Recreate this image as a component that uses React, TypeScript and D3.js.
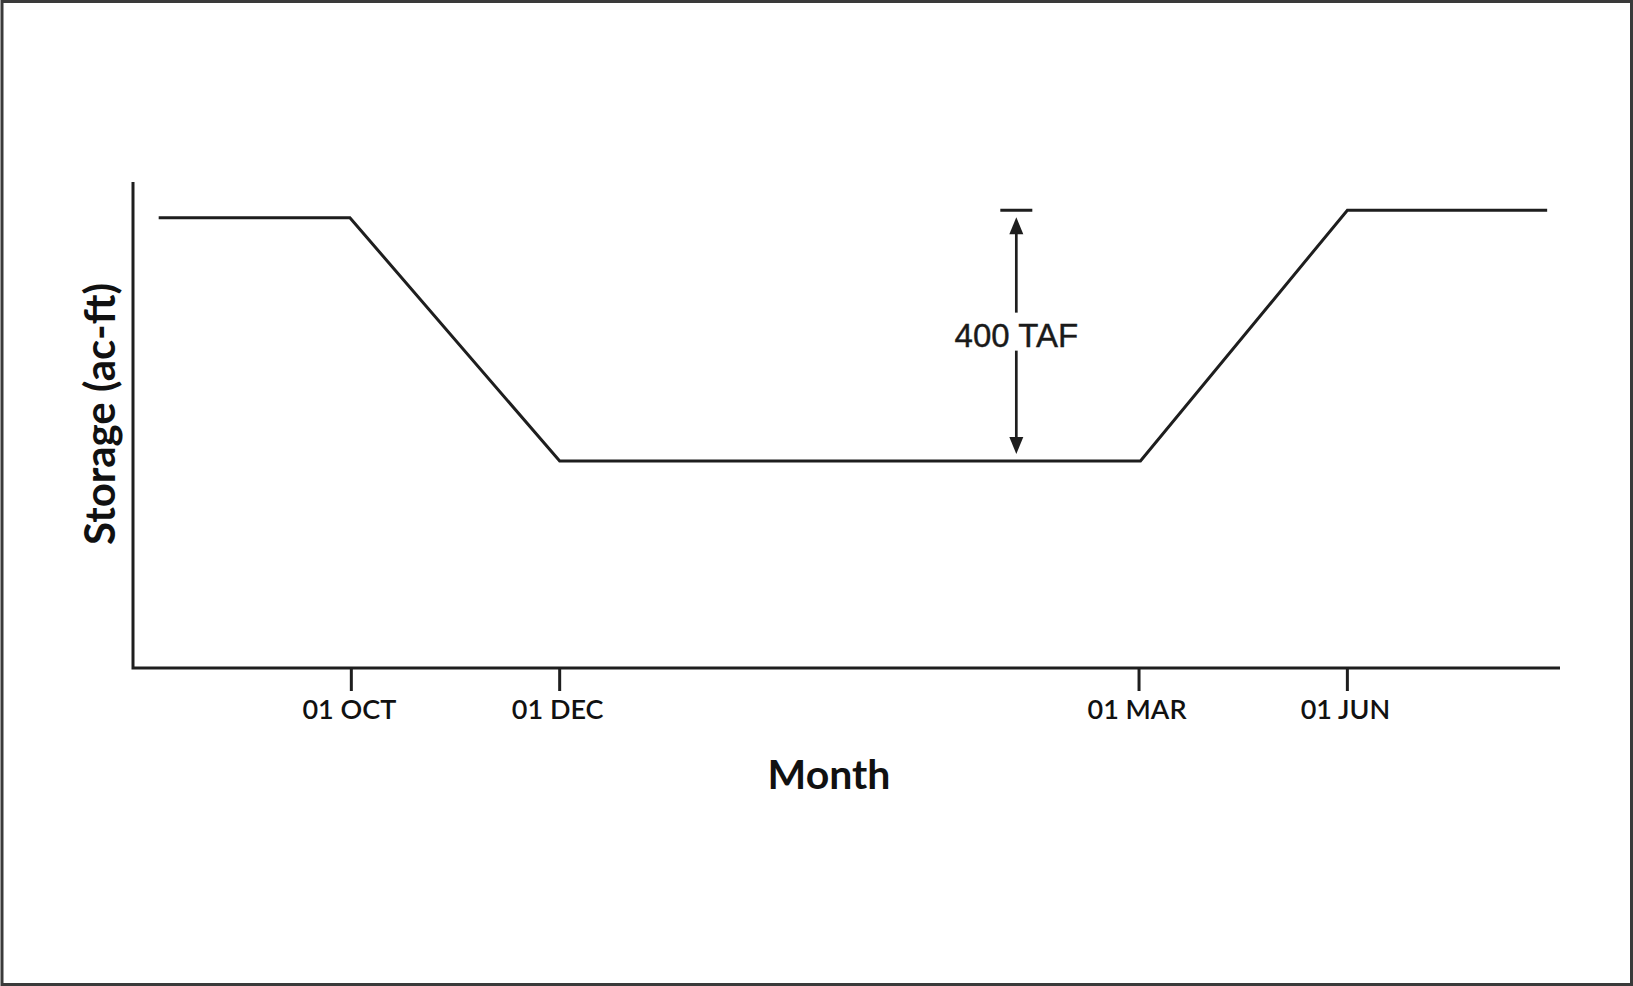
import React from "react";
import * as d3 from "d3";

// schematic x positions (arbitrary units 0..100) and storage (TAF)
const tickLabels = ["01 OCT", "01 DEC", "01 MAR", "01 JUN"];
const tickPositions = [15.3, 29.9, 70.5, 85.1];
const seriesX = [1.8, 15.2, 29.9, 70.6, 85.1, 99.1];
const seriesStorage = [718, 718, 330, 330, 730, 730];
const annotationX = 61.9;
const annotationLow = 330;
const annotationHigh = 730;
const annotationLabel = "400 TAF";
const xTitle = "Month";
const yTitle = "Storage (ac-ft)";

const W = 1633;
const H = 986;

export default function App() {
  const x = d3.scaleLinear().domain([0, 100]).range([133, 1560]);
  const y = d3.scaleLinear().domain([0, 775]).range([668, 182]);
  const pts: [number, number][] = seriesX.map((v, i) => [v, seriesStorage[i]]);
  const line = d3
    .line<[number, number]>()
    .x((d) => x(d[0]))
    .y((d) => y(d[1]));

  const ax = x(annotationX);
  const yTop = y(annotationHigh);
  const yBot = y(annotationLow);
  const tipInset = 7;
  const headH = 17;
  const headW = 7;
  const textY = (yTop + yBot) / 2;
  const stroke = "#1e1e1e";

  return (
    <svg
      width={W}
      height={H}
      style={{ position: "absolute", left: 0, top: 0, background: "#fff" }}
    >
      <rect x={0} y={0} width={W} height={H} fill="#fff" />
      <rect
        x={2}
        y={1.5}
        width={W - 3.5}
        height={H - 3}
        fill="none"
        stroke="#3a3a3a"
        strokeWidth={3}
      />
      {/* axes */}
      <path
        d={`M${x(0)},${y(775)} L${x(0)},${y(0)} L${x(100)},${y(0)}`}
        fill="none"
        stroke={stroke}
        strokeWidth={3}
      />
      {tickPositions.map((t, i) => (
        <g key={tickLabels[i]} transform={`translate(${x(t)},${y(0)})`}>
          <line y1={0} y2={23} stroke={stroke} strokeWidth={3} />
          <text
            x={-2}
            y={51}
            textAnchor="middle"
            fontFamily="Lato, 'Open Sans', sans-serif"
            fontSize={27}
            fontWeight={600}
            fill="#111"
          >
            {tickLabels[i]}
          </text>
        </g>
      ))}
      {/* series */}
      <path
        d={line(pts) || ""}
        fill="none"
        stroke={stroke}
        strokeWidth={3}
        strokeLinejoin="miter"
      />
      {/* annotation */}
      <line
        x1={ax - 16}
        x2={ax + 16}
        y1={yTop}
        y2={yTop}
        stroke={stroke}
        strokeWidth={3}
      />
      <line
        x1={ax}
        x2={ax}
        y1={yTop + tipInset + headH - 2}
        y2={yBot - tipInset - headH + 2}
        stroke={stroke}
        strokeWidth={2.7}
      />
      <path
        d={`M${ax},${yTop + tipInset} L${ax - headW},${yTop + tipInset + headH} L${ax + headW},${yTop + tipInset + headH} Z`}
        fill={stroke}
      />
      <path
        d={`M${ax},${yBot - tipInset} L${ax - headW},${yBot - tipInset - headH} L${ax + headW},${yBot - tipInset - headH} Z`}
        fill={stroke}
      />
      <rect x={ax - 64} y={textY - 23} width={128} height={38} fill="#fff" />
      <text
        x={ax}
        y={textY + 11}
        textAnchor="middle"
        fontFamily="'Liberation Sans', Arial, sans-serif"
        fontSize={33}
        fill="#1a1a1a"
        stroke="#1a1a1a"
        strokeWidth={0.4}
      >
        {annotationLabel}
      </text>
      {/* titles */}
      <text
        x={829}
        y={789}
        textAnchor="middle"
        fontFamily="Lato, 'Open Sans', sans-serif"
        fontSize={41}
        fontWeight={700}
        fill="#111"
      >
        {xTitle}
      </text>
      <text
        transform="translate(115,414) rotate(-90)"
        textAnchor="middle"
        fontFamily="Lato, 'Open Sans', sans-serif"
        fontSize={42}
        fontWeight={700}
        fill="#111"
      >
        {yTitle}
      </text>
    </svg>
  );
}
